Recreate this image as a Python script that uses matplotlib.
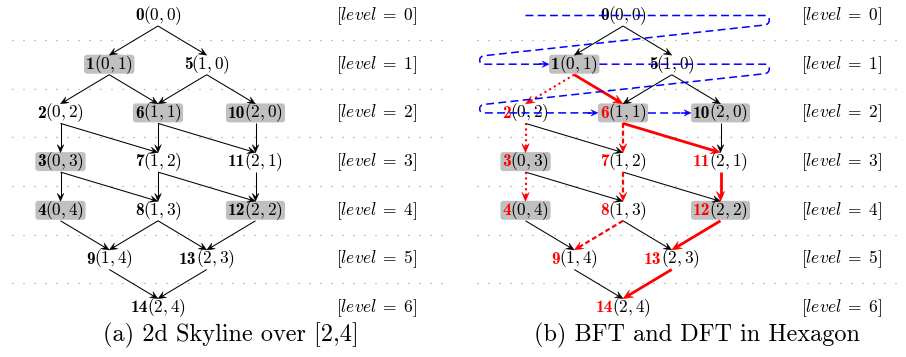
import numpy as np
import matplotlib.pyplot as plt
from matplotlib.patches import FancyBboxPatch, Polygon, PathPatch
from matplotlib.path import Path

plt.rcParams['mathtext.fontset'] = 'cm'

# lattice of the 2d skyline over [2,4]: node id and its (a, b) coordinate
node_ids = [0, 1, 5, 2, 6, 10, 3, 7, 11, 4, 8, 12, 9, 13, 14]
node_a = [0, 0, 1, 0, 1, 2, 0, 1, 2, 0, 1, 2, 1, 2, 2]
node_b = [0, 1, 0, 2, 1, 0, 3, 2, 1, 4, 3, 2, 4, 3, 4]
max_a, max_b = 2, 4
skyline_ids = [1, 6, 10, 3, 4, 12]

# panel (b): traversals
dft_solid = [1, 6, 11, 12, 13, 14]
dft_dashed = [6, 7, 8, 9]
dft_dotted = [1, 2, 3, 4]
bft_levels = [0, 1, 2]
bft_visits = [1, 6, 10]
plain_ids_b = [0, 1, 5, 10]

captions = ['(a) 2d Skyline over [2,4]', '(b) BFT and DFT in Hexagon']

# layout (pixels)
panel_cx = [158, 623]
caption_x = [231, 697]
col_dx = 97.5
lev_y0, lev_dy = 15.5, 48.7
fs = 12.5
gray = '#c0c0c0'
red = '#ff0000'
blue = '#0000ff'

fig = plt.figure(figsize=(9.06, 3.57), dpi=100)
ax = fig.add_axes([0, 0, 1, 1])
ax.set_xlim(0, 906)
ax.set_ylim(357, 0)
ax.axis('off')
renderer = fig.canvas.get_renderer()

levels = [a + b for a, b in zip(node_a, node_b)]
n_levels = max_a + max_b + 1
by_ab = {(a, b): n for n, a, b in zip(node_ids, node_a, node_b)}
ab_of = {n: (a, b) for n, a, b in zip(node_ids, node_a, node_b)}

edges = []
for n, a, b in zip(node_ids, node_a, node_b):
    for child in [(a, b + 1), (a + 1, b)]:
        if child in by_ab:
            edges.append((n, by_ab[child]))

dft_style = {}
for path, st in [(dft_solid, 'solid'), (dft_dashed, 'dashed'), (dft_dotted, 'dotted')]:
    for s, t in zip(path[:-1], path[1:]):
        dft_style[(s, t)] = st


def arrow(p0, p1, color, lw, ls, L, Wd, z):
    p0 = np.array(p0, float)
    p1 = np.array(p1, float)
    u = (p1 - p0) / np.linalg.norm(p1 - p0)
    nrm = np.array([-u[1], u[0]])
    end = p1 - u * L * 0.55
    ax.plot([p0[0], end[0]], [p0[1], end[1]], color=color, lw=lw, ls=ls,
            solid_capstyle='butt', dash_capstyle='butt', zorder=z)
    head = [p1, p1 - u * L + nrm * Wd, p1 - u * L * 0.6, p1 - u * L - nrm * Wd]
    ax.add_patch(Polygon(head, closed=True, fc=color, ec=color, lw=0.3, zorder=z))


def rounded_line(pts, r, color, lw, ls, z):
    pts = [np.array(p, float) for p in pts]
    verts = [pts[0]]
    codes = [Path.MOVETO]
    for i in range(1, len(pts) - 1):
        d1 = pts[i] - pts[i - 1]
        d2 = pts[i + 1] - pts[i]
        r1 = min(r, np.linalg.norm(d1) / 2)
        r2 = min(r, np.linalg.norm(d2) / 2)
        verts += [pts[i] - d1 / np.linalg.norm(d1) * r1, pts[i], pts[i] + d2 / np.linalg.norm(d2) * r2]
        codes += [Path.LINETO, Path.CURVE3, Path.CURVE3]
    verts.append(pts[-1])
    codes.append(Path.LINETO)
    ax.add_patch(PathPatch(Path(verts, codes), fill=False, ec=color, lw=lw, ls=ls,
                           capstyle='butt', zorder=z))


for k in range(2):
    cx = panel_cx[k]
    off = k * 465

    # dotted separators between levels
    for lev in range(n_levels - 1):
        y = lev_y0 + (lev + 0.5) * lev_dy
        ax.plot([12 + off, 450 + off], [y, y], color='#888888', lw=0.9,
                ls=(0, (0.8, 8.0)), dash_capstyle='butt', zorder=1)

    # node positions
    pos = {}
    for lev in range(n_levels):
        row = sorted([n for n, l in zip(node_ids, levels) if l == lev], key=lambda n: ab_of[n][0])
        for i, n in enumerate(row):
            pos[n] = (cx + (i - (len(row) - 1) / 2) * col_dx, lev_y0 + lev * lev_dy)
        ax.text(377 + off, lev_y0 + lev * lev_dy + 4.6, r'$[level\;=\;%d]$' % lev,
                fontsize=fs, ha='center', va='baseline', zorder=4)

    # node labels
    extent = {}
    for n in node_ids:
        x, y = pos[n]
        a, b = ab_of[n]
        c1 = red if (k == 1 and n not in plain_ids_b) else 'black'
        t1 = ax.text(0, 0, str(n), fontsize=fs, family='cmb10', color=c1, ha='left', va='baseline', zorder=4)
        t2 = ax.text(0, 0, r'$(%d,%d)$' % (a, b), fontsize=fs, ha='left', va='baseline', zorder=4)
        w1 = t1.get_window_extent(renderer).width
        w2 = t2.get_window_extent(renderer).width - 1.5
        x0 = x - (w1 + w2) / 2
        t1.set_position((x0, y + 4.6))
        t2.set_position((x0 + w1 - 1.0, y + 4.6))
        extent[n] = (x0 - 2, x0 + w1 + w2 + 2)
        if n in skyline_ids:
            ax.add_patch(FancyBboxPatch((x0 - 2, y - 9.5), w1 + w2 + 4, 19,
                                        boxstyle='round,pad=0,rounding_size=3',
                                        fc=gray, ec='none', zorder=2))

    # lattice edges
    for s, t in edges:
        p0 = (pos[s][0], pos[s][1] + 10.5)
        p1 = (pos[t][0], pos[t][1] - 9)
        st = dft_style.get((s, t)) if k == 1 else None
        if st == 'solid':
            arrow(p0, p1, red, 2.0, '-', 10, 4.2, 3.5)
        elif st == 'dashed':
            arrow(p0, p1, red, 1.6, (0, (2.2, 1.3)), 9, 3.8, 3.5)
        elif st == 'dotted':
            arrow(p0, p1, red, 1.5, (0, (1.0, 1.6)), 9, 3.8, 3.5)
        else:
            arrow(p0, p1, 'black', 0.75, '-', 8, 3.4, 3)

    # breadth-first traversal (blue snake)
    if k == 1:
        right_x = cx + 1.5 * col_dx
        left_x = cx - 1.47 * col_dx
        pts = [(cx - col_dx, pos[0][1])]
        for lev in bft_levels:
            y = lev_y0 + lev * lev_dy
            row = sorted([n for n, l in zip(node_ids, levels) if l == lev], key=lambda n: ab_of[n][0])
            for n in row:
                if n in bft_visits:
                    tip = (extent[n][0], y)
                    u = np.array(tip) - np.array(pts[-1])
                    u = u / np.linalg.norm(u)
                    rounded_line(pts + [tuple(np.array(tip) - u * 4)], 5, blue, 1.1, (0, (5.2, 2.8)), 5)
                    arrow(np.array(tip) - u * 10, tip, blue, 1.1, '-', 7, 3.2, 5)
                    pts = [(extent[n][1], y)]
            if lev != bft_levels[-1]:
                y_next = y + lev_dy
                pts += [(right_x, y), (right_x, y + 9), (left_x, y_next - 8), (left_x, y_next)]

    ax.text(caption_x[k], 341, captions[k], fontsize=17.5, family='cmr10', ha='center', va='baseline')

fig.savefig('out.png', dpi=100)
